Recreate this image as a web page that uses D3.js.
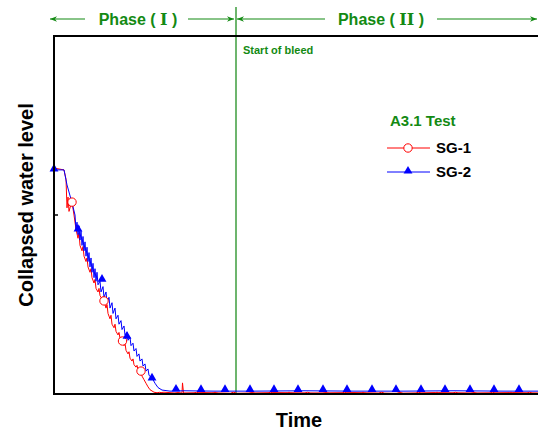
<!DOCTYPE html>
<html lang="en">
  <head>
    <meta charset="UTF-8" />
    <title>A3.1 Test</title>
    <script src="https://d3js.org/d3.v7.min.js"></script>
    <style>
      body { margin: 0; background: #fff; }
      text { font-family: "Liberation Sans", Arial, sans-serif; font-weight: bold; }
      .rn { font-family: "DejaVu Serif", "Liberation Serif", serif; }
    </style>
  </head>

  <body>
    <script>
      // time in s, collapsed level in arbitrary units
      var sg1 = [
        [0, 6.31], [100, 6.26], [120, 6.0], [130, 5.2], [140, 5.5], [150, 5.1], [170, 5.3],
        [180, 5.36], [200, 5.0], [220, 4.6], [240, 4.35], [250, 4.5], [260, 4.15], [280, 4.0],
        [290, 4.12], [300, 3.85], [320, 3.7], [330, 3.8], [340, 3.55], [360, 3.4], [370, 3.5],
        [380, 3.25], [400, 3.1], [410, 3.2], [420, 2.95], [440, 2.85], [450, 2.95], [460, 2.75],
        [480, 2.65], [490, 2.72], [500, 2.6], [520, 2.4], [530, 2.5], [540, 2.25], [560, 2.1],
        [570, 2.2], [580, 1.95], [600, 1.85], [610, 1.95], [620, 1.75], [640, 1.65], [650, 1.72],
        [660, 1.55], [685, 1.48], [700, 1.35], [710, 1.42], [720, 1.22], [740, 1.12], [750, 1.18],
        [760, 1.0], [780, 0.92], [790, 0.98], [800, 0.82], [820, 0.75], [830, 0.8], [840, 0.68],
        [870, 0.64], [880, 0.5], [900, 0.4], [920, 0.3], [940, 0.2], [960, 0.12], [1000, 0.05],
        [1040, 0.03], [1100, 0.05], [1200, 0.03], [1280, 0.03], [1285, 0.31], [1295, 0.03],
        [1500, 0.04], [1800, 0.02], [2200, 0.04], [2600, 0.03], [3000, 0.04], [3400, 0.02],
        [3800, 0.04], [4200, 0.03], [4600, 0.04], [4840, 0.03]
      ];

      var sg2 = [
        [0, 6.31], [30, 6.26], [100, 6.26], [130, 5.84], [180, 5.34], [210, 5.0], [220, 4.6],
        [230, 4.8], [240, 4.45], [250, 4.7], [260, 4.3], [270, 4.55], [280, 4.15], [290, 4.4],
        [300, 4.0], [310, 4.25], [320, 3.85], [330, 4.1], [340, 3.7], [350, 3.95], [360, 3.55],
        [370, 3.8], [380, 3.4], [390, 3.65], [400, 3.25], [410, 3.5], [420, 3.15], [430, 3.4],
        [440, 3.05], [460, 3.15], [470, 2.85], [490, 3.0], [500, 2.7], [520, 2.85], [530, 2.55],
        [550, 2.7], [560, 2.4], [580, 2.55], [590, 2.25], [610, 2.4], [620, 2.1], [640, 2.2],
        [650, 1.95], [670, 2.05], [680, 1.8], [700, 1.9], [710, 1.65], [730, 1.72], [740, 1.5],
        [760, 1.58], [770, 1.35], [790, 1.42], [800, 1.2], [820, 1.27], [830, 1.05], [850, 1.12],
        [860, 0.92], [880, 0.98], [890, 0.78], [910, 0.84], [920, 0.64], [940, 0.7], [950, 0.52],
        [980, 0.45], [1010, 0.3], [1040, 0.18], [1080, 0.11], [1160, 0.08], [1300, 0.09],
        [1600, 0.08], [2000, 0.08], [2500, 0.09], [3000, 0.08], [3500, 0.08], [4000, 0.09],
        [4500, 0.08], [4840, 0.08]
      ];

      var sg1Markers = [
        [180, 5.36], [500, 2.6], [685, 1.48], [870, 0.64], [1055, -0.07], [1240, -0.07],
        [1425, -0.07], [1610, -0.07], [1795, -0.07], [1980, -0.07], [2165, -0.07], [2350, -0.07],
        [2535, -0.07], [2720, -0.07], [2905, -0.07], [3090, -0.07], [3275, -0.07], [3460, -0.07],
        [3645, -0.07], [3830, -0.07], [4015, -0.07], [4200, -0.07], [4385, -0.07], [4570, -0.07],
        [4755, -0.07]
      ];

      var sg2Markers = [
        [0, 6.26], [240, 4.58], [480, 3.18], [730, 1.59], [980, 0.42], [1220, 0.11],
        [1470, 0.1], [1710, 0.1], [1960, 0.1], [2200, 0.1], [2440, 0.1], [2690, 0.1],
        [2930, 0.1], [3180, 0.1], [3420, 0.1], [3670, 0.1], [3910, 0.1], [4160, 0.1],
        [4400, 0.1], [4650, 0.1]
      ];

      var bleedTime = 1820;
      var yTicks = [5];

      var W = 538, H = 430;
      var margin = { top: 36, right: 0, bottom: 36, left: 54 };
      var width = W - margin.left - margin.right,
        height = H - margin.top - margin.bottom;
      var green = "#138a13";

      var svg = d3.select("body").append("svg").attr("width", W).attr("height", H);
      var g = svg.append("g").attr("transform", "translate(" + margin.left + "," + margin.top + ")");

      svg.append("defs").append("clipPath").attr("id", "plot")
        .append("rect").attr("x", -6).attr("y", 0).attr("width", width + 6).attr("height", height);

      var x = d3.scaleLinear().domain([0, 4840]).range([0, width]);
      var y = d3.scaleLinear().domain([0, 10]).range([height, 0]);

      var line = d3.line()
        .x(function (d) { return x(d[0]); })
        .y(function (d) { return y(d[1]); });

      // phase divider
      g.append("line")
        .attr("x1", x(bleedTime)).attr("x2", x(bleedTime))
        .attr("y1", -29).attr("y2", height)
        .attr("stroke", "#3c9c3c").attr("stroke-width", 1.5);

      g.append("text")
        .attr("x", x(bleedTime) + 7).attr("y", 18)
        .attr("fill", green).style("font-size", "11px")
        .text("Start of bleed");

      var data = g.append("g").attr("clip-path", "url(#plot)");

      data.append("path").datum(sg1)
        .attr("fill", "none").attr("stroke", "#ff0000").attr("stroke-width", 1)
        .attr("d", line);
      data.append("path").datum(sg2)
        .attr("fill", "none").attr("stroke", "#0000ff").attr("stroke-width", 1)
        .attr("d", line);

      var tri = d3.symbol().type(d3.symbolTriangle).size(34);

      data.selectAll(".c").data(sg1Markers).enter().append("circle")
        .attr("cx", function (d) { return x(d[0]); })
        .attr("cy", function (d) { return y(d[1]); })
        .attr("r", 4.2).attr("fill", "#fff").attr("stroke", "#ff0000").attr("stroke-width", 1);

      data.selectAll(".t").data(sg2Markers).enter().append("path")
        .attr("transform", function (d) { return "translate(" + x(d[0]) + "," + (y(d[1]) - 1) + ")"; })
        .attr("d", tri).attr("fill", "#0000ff");

      // frame: left, top, bottom
      g.append("path")
        .attr("d", "M" + width + ",0H0V" + height + "H" + width)
        .attr("fill", "none").attr("stroke", "#000").attr("stroke-width", 2);

      g.selectAll(".ytick").data(yTicks).enter().append("line")
        .attr("x1", 0).attr("x2", 4)
        .attr("y1", function (d) { return y(d); }).attr("y2", function (d) { return y(d); })
        .attr("stroke", "#000").attr("stroke-width", 1.5);

      // phase arrows
      var defs = svg.append("defs");
      defs.append("marker").attr("id", "ah")
        .attr("viewBox", "0 0 10 10").attr("refX", 10).attr("refY", 5)
        .attr("markerWidth", 7).attr("markerHeight", 7).attr("orient", "auto-start-reverse")
        .attr("markerUnits", "userSpaceOnUse")
        .append("path").attr("d", "M0,1L10,5L0,9L3,5Z").attr("fill", green);

      var ay = -17;
      function arrow(x1, x2, startHead, endHead) {
        var l = g.append("line")
          .attr("x1", x1).attr("x2", x2).attr("y1", ay).attr("y2", ay)
          .attr("stroke", green).attr("stroke-width", 1.2);
        if (startHead) l.attr("marker-start", "url(#ah)");
        if (endHead) l.attr("marker-end", "url(#ah)");
      }
      arrow(-4, 31, true, false);
      arrow(134, 180, false, true);
      arrow(183, 271, true, false);
      arrow(383, 483, false, true);

      function phaseLabel(cx, numeral) {
        var t = g.append("text").attr("x", cx).attr("y", ay + 5.5).attr("text-anchor", "middle")
          .attr("fill", green).style("font-size", "16px");
        t.append("tspan").text("Phase ( ");
        t.append("tspan").attr("class", "rn").text(numeral);
        t.append("tspan").text(" )");
      }
      phaseLabel(84, "I");
      phaseLabel(327, "II");

      // legend
      var lg = svg.append("g").attr("transform", "translate(387,0)");
      lg.append("text").attr("x", 3).attr("y", 126).attr("fill", green)
        .style("font-size", "15px").text("A3.1 Test");
      lg.append("line").attr("x1", 0).attr("x2", 43).attr("y1", 148).attr("y2", 148)
        .attr("stroke", "#ff0000");
      lg.append("circle").attr("cx", 21).attr("cy", 148).attr("r", 4.2)
        .attr("fill", "#fff").attr("stroke", "#ff0000");
      lg.append("text").attr("x", 49).attr("y", 153).style("font-size", "15px").text("SG-1");
      lg.append("line").attr("x1", 0).attr("x2", 43).attr("y1", 172).attr("y2", 172)
        .attr("stroke", "#0000ff");
      lg.append("path").attr("transform", "translate(21,171)").attr("d", tri).attr("fill", "#0000ff");
      lg.append("text").attr("x", 49).attr("y", 177).style("font-size", "15px").text("SG-2");

      // axis titles
      svg.append("text").attr("x", 299).attr("y", 427).attr("text-anchor", "middle")
        .style("font-size", "20px").text("Time");
      svg.append("text")
        .attr("transform", "translate(33,205) rotate(-90)")
        .attr("text-anchor", "middle").style("font-size", "20px")
        .text("Collapsed water level");
    </script>
  </body>
</html>
